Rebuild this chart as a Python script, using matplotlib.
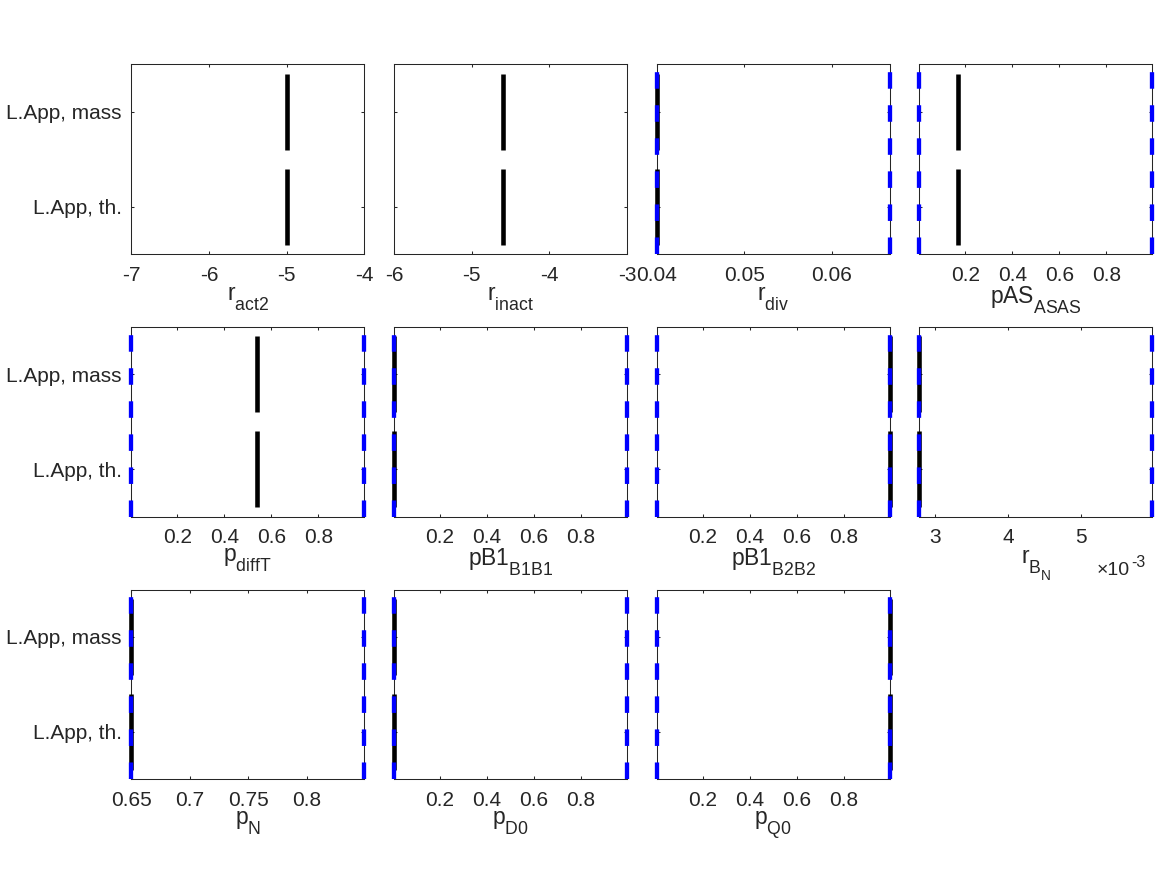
import matplotlib
matplotlib.use('Agg')
import matplotlib.pyplot as plt

try:
    import matplotlib._mathtext as _mt
    _mt.SHRINK_FACTOR = 0.77
    _mt.FontConstantsBase.sub1 = 0.78
    _mt.FontConstantsBase.sub2 = 0.78
except Exception:
    pass

plt.rcParams['font.family'] = ['Liberation Sans', 'DejaVu Sans']
plt.rcParams['mathtext.fontset'] = 'custom'
plt.rcParams['mathtext.rm'] = 'Liberation Sans'
plt.rcParams['mathtext.it'] = 'Liberation Sans:italic'
plt.rcParams['mathtext.bf'] = 'Liberation Sans:bold'
plt.rcParams['axes.unicode_minus'] = False
plt.rcParams['lines.scale_dashes'] = False

# ---------------- data ----------------
categories = ['L.App, th.', 'L.App, mass']
cat_pos = [1, 2]

param_labels = ['$\\mathrm{r}_{\\mathrm{act2}}$', '$\\mathrm{r}_{\\mathrm{inact}}$',
                '$\\mathrm{r}_{\\mathrm{div}}$', '$\\mathrm{pAS}_{\\mathrm{ASAS}}$',
                '$\\mathrm{p}_{\\mathrm{diffT}}$', '$\\mathrm{pB1}_{\\mathrm{B1B1}}$',
                '$\\mathrm{pB1}_{\\mathrm{B2B2}}$', '$\\mathrm{r}_{\\mathrm{B}_{\\mathrm{N}}}$',
                '$\\mathrm{p}_{\\mathrm{N}}$', '$\\mathrm{p}_{\\mathrm{D0}}$', '$\\mathrm{p}_{\\mathrm{Q0}}$']

est_th = [-5.0, -4.6, 0.04, 0.17, 0.54, 0.005, 0.995, 0.00278, 0.65, 0.005, 0.995]
est_mass = [-5.0, -4.6, 0.04, 0.17, 0.54, 0.005, 0.995, 0.00278, 0.65, 0.005, 0.995]

lower_bounds = [None, None, 0.04, 0.005, 0.005, 0.005, 0.005, 0.00278, 0.65, 0.005, 0.005]
upper_bounds = [None, None, 0.0666, 0.995, 0.995, 0.995, 0.995, 0.00597, 0.849, 0.995, 0.995]

xlim_low = [-7, -6, 0.04, 0.005, 0.005, 0.005, 0.005, 0.00278, 0.65, 0.005, 0.005]
xlim_high = [-4, -3, 0.0666, 0.995, 0.995, 0.995, 0.995, 0.00597, 0.849, 0.995, 0.995]

prob_ticks = [0.2, 0.4, 0.6, 0.8]
prob_labels = ['0.2', '0.4', '0.6', '0.8']
xticks = [[-7, -6, -5, -4], [-6, -5, -4, -3], [0.04, 0.05, 0.06], prob_ticks,
          prob_ticks, prob_ticks, prob_ticks, [0.003, 0.004, 0.005],
          [0.65, 0.7, 0.75, 0.8], prob_ticks, prob_ticks]
xticklabels = [['-7', '-6', '-5', '-4'], ['-6', '-5', '-4', '-3'], ['0.04', '0.05', '0.06'], prob_labels,
               prob_labels, prob_labels, prob_labels, ['3', '4', '5'],
               ['0.65', '0.7', '0.75', '0.8'], prob_labels, prob_labels]
offset_base = [None, None, None, None, None, None, None, '\u00d710', None, None, None]
offset_exp = [None, None, None, None, None, None, None, '-3', None, None, None]

# ---------------- layout ----------------
W, H = 1167, 875
fig = plt.figure(figsize=(W / 100, H / 100), dpi=100)

ax_left0, ax_dx, ax_w = 131.3, 262.67, 233.0
ax_top0, ax_dy, ax_h = 64.5, 262.5, 189.5
edge = '#262626'
half = 0.4

for k in range(len(param_labels)):
    r, c = divmod(k, 4)
    left = (ax_left0 + c * ax_dx) / W
    bottom = 1 - (ax_top0 + r * ax_dy + ax_h) / H
    ax = fig.add_axes([left, bottom, ax_w / W, ax_h / H])

    for est, y in zip([est_th[k], est_mass[k]], cat_pos):
        ax.plot([est, est], [y - half, y + half], color='black', lw=3.3,
                solid_capstyle='butt', clip_on=False, zorder=3)
    for b in (lower_bounds[k], upper_bounds[k]):
        if b is not None:
            ax.plot([b, b], [0.5, 2.5], color='#0000ff', lw=3.1,
                    dashes=(11.9, 11.9), dash_capstyle='butt',
                    clip_on=False, zorder=4)

    ax.set_xlim(xlim_low[k], xlim_high[k])
    ax.set_ylim(0.5, 2.5)
    ax.set_xticks(xticks[k])
    ax.set_xticklabels(xticklabels[k])
    ax.set_yticks(cat_pos)
    if c == 0:
        ax.set_yticklabels(categories)
    else:
        ax.set_yticklabels([])
    ax.tick_params(direction='in', top=True, right=True, length=1.9, width=0.75,
                   colors=edge, labelsize=15, pad=8.5)
    ax.tick_params(axis='y', pad=7)
    for sp in ax.spines.values():
        sp.set_color(edge)
        sp.set_linewidth(0.75)
    ax.set_xlabel(param_labels[k], fontsize=16.5, color=edge, labelpad=0)
    if offset_base[k] is not None:
        ax.text(0.763, -0.285, offset_base[k], transform=ax.transAxes,
                ha='left', va='center', fontsize=14, color=edge)
        ax.text(0.908, -0.245, offset_exp[k], transform=ax.transAxes,
                ha='left', va='center', fontsize=11.5, color=edge)

fig.savefig('out.png', dpi=100)
